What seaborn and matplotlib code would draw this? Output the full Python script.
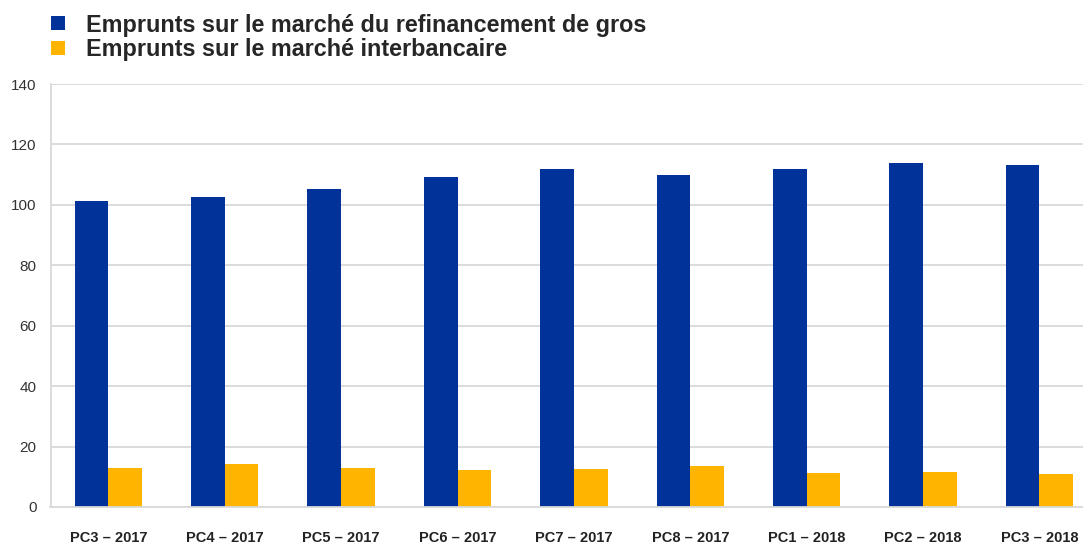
import matplotlib.pyplot as plt
import pandas as pd
import seaborn as sns
from matplotlib.lines import Line2D

periods = ["PC3 – 2017", "PC4 – 2017", "PC5 – 2017", "PC6 – 2017", "PC7 – 2017",
           "PC8 – 2017", "PC1 – 2018", "PC2 – 2018", "PC3 – 2018"]
wholesale = [101.4, 102.6, 105.2, 109.3, 111.9, 109.8, 111.9, 113.9, 113.1]
interbank = [12.8, 14.1, 12.8, 12.1, 12.6, 13.5, 11.3, 11.5, 10.8]
series_names = ["Emprunts sur le marché du refinancement de gros",
                "Emprunts sur le marché interbancaire"]
colors = ["#003299", "#FFB400"]


def main():
    df = pd.DataFrame({"period": periods, series_names[0]: wholesale, series_names[1]: interbank})
    plot_df = df.melt(id_vars="period", var_name="series", value_name="value")

    sns.set_style("white")
    plt.rcParams["font.family"] = ["Liberation Sans", "DejaVu Sans"]

    W, H = 1083, 546
    fig = plt.figure(figsize=(W / 100, H / 100), dpi=100)
    ax = fig.add_axes([50.5 / W, 39 / H, (W - 50.5) / W, 423 / H])

    sns.barplot(data=plot_df, x="period", y="value", hue="series", order=periods,
                hue_order=series_names, palette=colors, width=0.58, gap=0,
                linewidth=0, saturation=1, legend=False, ax=ax)

    ax.set_xlim(-0.497, 8.374)
    ax.set_ylim(0, 140)
    ax.set_yticks(range(0, 141, 20))
    ax.yaxis.grid(True, color="#d9d9d9", linewidth=1.3)
    ax.set_axisbelow(True)
    for side in ["top", "right"]:
        ax.spines[side].set_visible(False)
    for side in ["left", "bottom"]:
        ax.spines[side].set_color("#d9d9d9")
        ax.spines[side].set_linewidth(1.3)
    ax.set_xlabel("")
    ax.set_ylabel("")
    ax.tick_params(axis="y", length=0, pad=10, labelsize=11, labelcolor="#333333")
    ax.tick_params(axis="x", length=0, pad=17, labelsize=10.5, labelcolor="#222222")
    for lbl in ax.get_xticklabels():
        lbl.set_fontweight("bold")

    handles = [Line2D([], [], linestyle="none", marker="s", markersize=10.5,
                      markerfacecolor=c, markeredgewidth=0) for c in colors]
    ax.legend(handles, series_names, loc="upper left", bbox_to_anchor=(35 / W, 1 - 2 / H),
              bbox_transform=fig.transFigure, frameon=False, borderpad=0,
              labelspacing=0.05, handlelength=1.0, handletextpad=0.7,
              prop={"weight": "bold", "size": 16.8})

    fig.savefig("out.png", dpi=100)
    plt.close(fig)


if __name__ == "__main__":
    main()
